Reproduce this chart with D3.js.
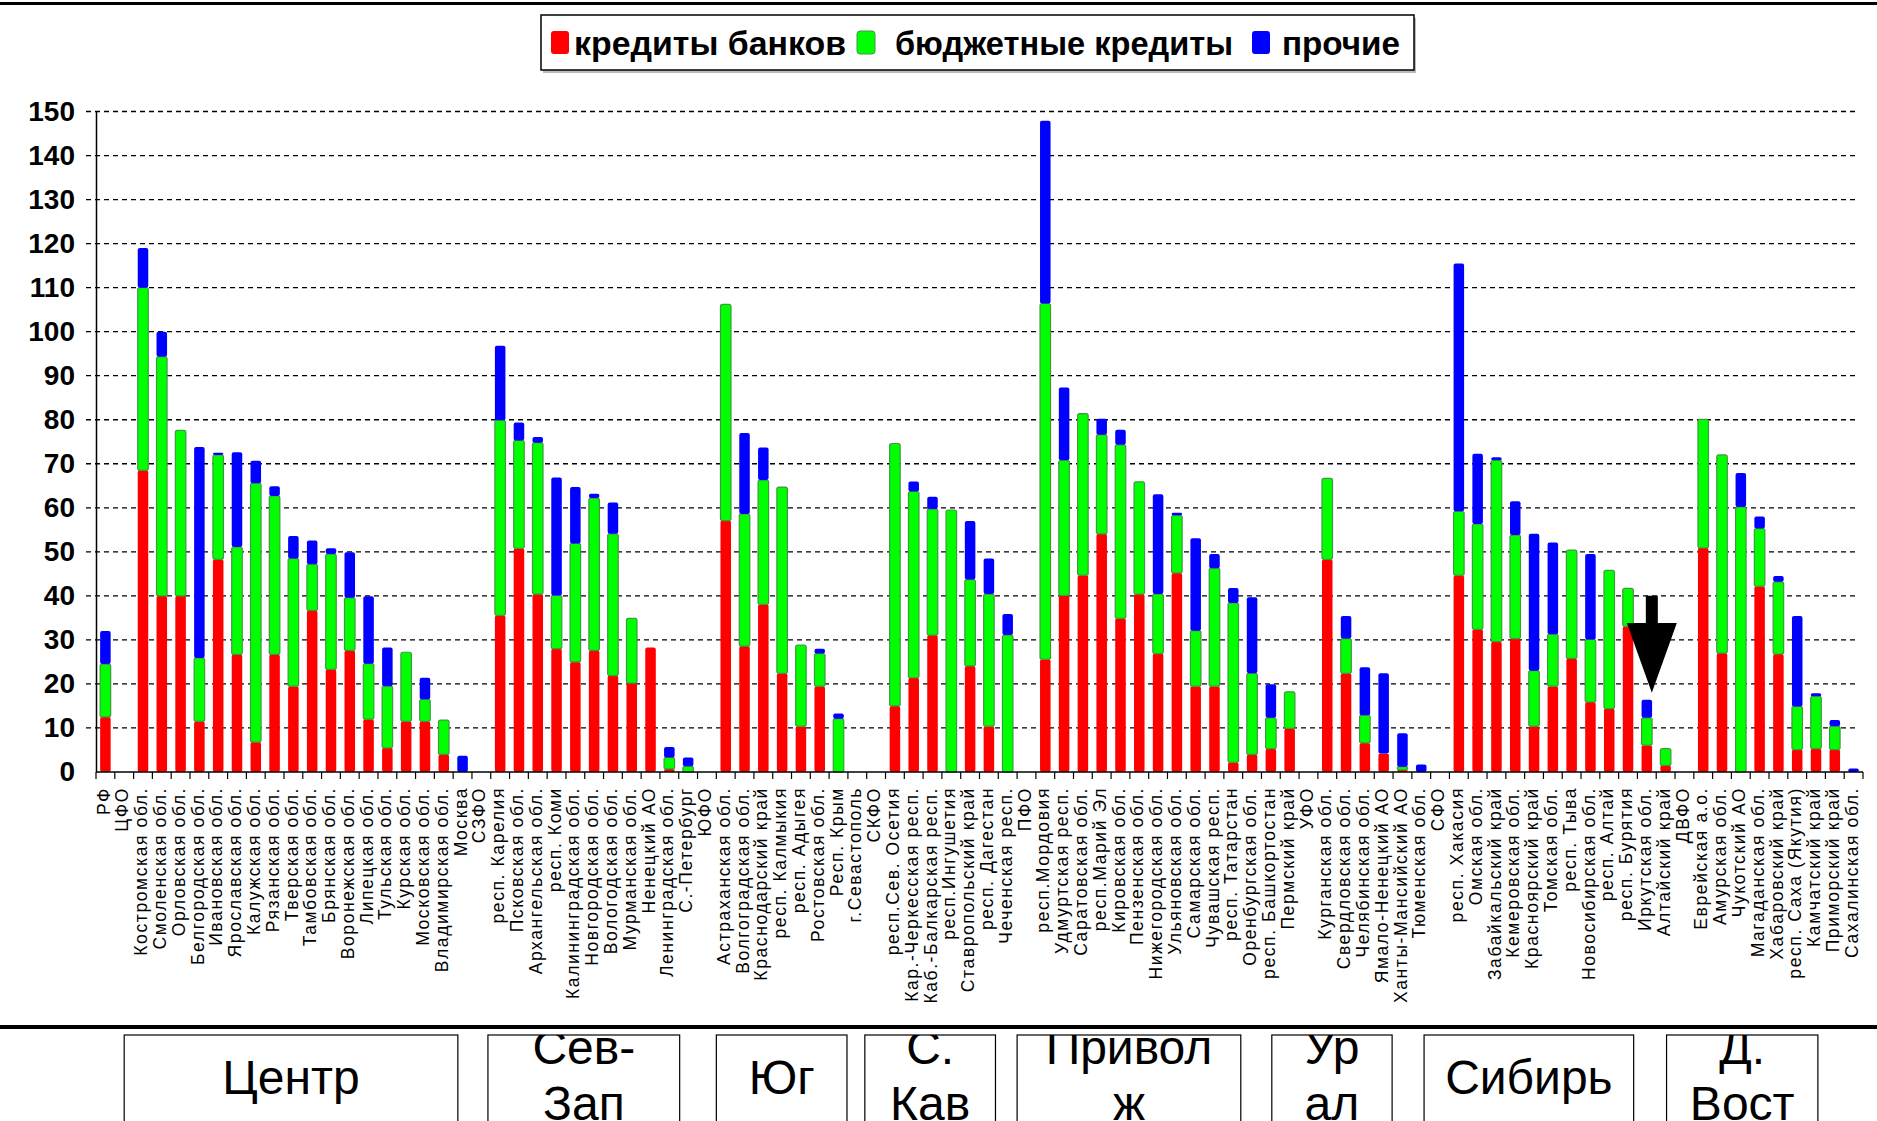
<!DOCTYPE html>
<html>
<head>
<meta charset="utf-8">
<script src="https://cdn.jsdelivr.net/npm/d3@7"></script>
<style>
    body { margin: 0; background: #fff; }
    svg { display: block; font-family: "Liberation Sans", Arial, sans-serif; }
</style>
</head>
<body>
<svg id="chart" width="1877" height="1121"></svg>
<script>
// data
var categories = ["РФ", "ЦФО", "Костромская обл.", "Смоленская обл.", "Орловская обл.", "Белгородская обл.",
    "Ивановская обл.", "Ярославская обл.", "Калужская обл.", "Рязанская обл.", "Тверская обл.", "Тамбовская обл.",
    "Брянская обл.", "Воронежская обл.", "Липецкая обл.", "Тульская обл.", "Курская обл.", "Московская обл.",
    "Владимирская обл.", "Москва", "СЗФО", "респ. Карелия", "Псковская обл.", "Архангельская обл.", "респ. Коми",
    "Калининградская обл.", "Новгородская обл.", "Вологодская обл.", "Мурманская обл.", "Ненецкий АО",
    "Ленинградская обл.", "С.-Петербург", "ЮФО", "Астраханская обл.", "Волгоградская обл.", "Краснодарский край",
    "респ. Калмыкия", "респ. Адыгея", "Ростовская обл.", "Респ. Крым", "г.Севастополь", "СКФО",
    "респ.Сев. Осетия", "Кар.-Черкесская респ.", "Каб.-Балкарская респ.", "респ.Ингушетия", "Ставропольский край",
    "респ. Дагестан", "Чеченская респ.", "ПФО", "респ.Мордовия", "Удмуртская респ.", "Саратовская обл.",
    "респ.Марий Эл", "Кировская обл.", "Пензенская обл.", "Нижегородская обл.", "Ульяновская обл.",
    "Самарская обл.", "Чувашская респ.", "респ. Татарстан", "Оренбургская обл.", "респ. Башкортостан",
    "Пермский край", "УФО", "Курганская обл.", "Свердловская обл.", "Челябинская обл.", "Ямало-Ненецкий АО",
    "Ханты-Мансийский АО", "Тюменская обл.", "СФО", "респ. Хакасия", "Омская обл.", "Забайкальский край",
    "Кемеровская обл.", "Красноярский край", "Томская обл.", "респ. Тыва", "Новосибирская обл.", "респ. Алтай",
    "респ. Бурятия", "Иркутская обл.", "Алтайский край", "ДВФО", "Еврейская а.о.", "Амурская обл.",
    "Чукотский АО", "Магаданская обл.", "Хабаровский край", "респ. Саха (Якутия)", "Камчатский край",
    "Приморский край", "Сахалинская обл."];

var bankCredits = [12.5, 0, 68.5, 40, 40, 11.5, 48.3, 26.7, 6.8, 26.7, 19.5, 36.7, 23.3, 27.6, 12, 5.5, 11.5, 11.5,
    4, 0, 0, 35.6, 50.8, 40.4, 28, 25, 27.6, 21.9, 20.2, 28.3, 0.7, 0, 0, 57.1, 28.6, 38.1, 22.4, 10.4, 19.5, 0,
    0, 0, 15, 21.4, 31.1, 0, 24.1, 10.4, 0, 0, 25.6, 40.1, 44.7, 54.1, 34.9, 40.4, 26.9, 45.2, 19.5, 19.5, 2.2,
    4, 5.3, 9.9, 0, 48.3, 22.4, 6.6, 4.2, 0.5, 0, 0, 44.7, 32.4, 29.6, 30.3, 10.4, 19.5, 25.8, 15.9, 14.4, 33.1,
    6.1, 1.5, 0, 50.9, 27, 0, 42.2, 26.8, 5.1, 5.3, 5.1, 0];

var budgetCredits = [12, 0, 41.5, 54.3, 37.6, 14.4, 23.7, 24.4, 58.8, 36, 29, 10.5, 26.2, 12, 12.6, 14, 15.7, 5,
    7.8, 0, 0, 44.3, 24.5, 34.4, 12.1, 26.9, 34.6, 32.2, 14.7, 0, 2.6, 1.3, 0, 49.1, 30, 28.2, 42.3, 18.4, 7.4,
    12.1, 0, 0, 59.6, 42.3, 28.6, 59.5, 19.6, 30, 31.1, 0, 80.8, 30.7, 36.7, 22.5, 39.4, 25.5, 13.5, 13.1, 12.6,
    26.8, 36.2, 18.4, 7, 8.3, 0, 18.4, 7.9, 6.3, 0, 0.7, 0, 0, 14.5, 23.9, 41.2, 23.5, 12.6, 11.8, 24.6, 14.2,
    31.4, 8.6, 6.2, 3.8, 0, 29.2, 45, 60.2, 13.1, 16.4, 9.8, 11.9, 5.3, 0];

var otherDebt = [7.5, 0, 9, 5.7, 0, 47.9, 0.5, 21.5, 5.1, 2.2, 5.1, 5.4, 1.3, 10.3, 15.3, 8.8, 0, 4.9, 0, 3.7, 0,
    16.9, 4.1, 1.3, 26.8, 12.8, 1, 7.1, 0, 0, 2.4, 2, 0, 0, 18.4, 7.4, 0, 0, 1.1, 1.2, 0, 0, 0, 2.3, 2.8, 0, 13.3,
    8.1, 4.8, 0, 41.5, 16.5, 0, 3.6, 3.4, 0, 22.7, 0.6, 21, 3.2, 3.4, 17.3, 7.6, 0, 0, 0, 5.1, 10.9, 18.2, 7.6,
    1.7, 0, 56.3, 16, 0.7, 7.7, 31.1, 20.8, 0, 19.4, 0, 0, 4.1, 0, 0, 0, 0, 7.7, 2.7, 1.3, 20.5, 0.7, 1.4, 0.8];

var seriesKeys = ["bank", "budget", "other"];
var seriesNames = ["кредиты банков", "бюджетные кредиты", "прочие"];
var seriesColors = ["#ff0000", "#00ff00", "#0000ff"];
var yTicks = [0, 10, 20, 30, 40, 50, 60, 70, 80, 90, 100, 110, 120, 130, 140, 150];

// federal districts under the axis: label lines and the span in category slots
var regionLabels = [["Центр"], ["Сев-", "Зап"], ["Юг"], ["С.", "Кав"], ["Привол", "ж"], ["Ур", "ал"], ["Сибирь"], ["Д.", "Вост"]];
var regionSpans = [[1.5, 19.25], [20.85, 31.05], [33, 39.95], [40.9, 47.85], [49, 60.9], [62.55, 68.95], [70.65, 81.8], [83.55, 91.6]];

// the arrow drawn over one bar
var arrowCategory = "Иркутская обл.";
var arrowFrom = 40, arrowTo = 18;

(function () {
    var svg = d3.select("#chart");
    var W = 1877, H = 1121;
    var plotLeft = 96, plotRight = 1863, plotTop = 111.5, plotBottom = 772;

    var rows = categories.map(function (c, i) {
        return {name: c, bank: bankCredits[i], budget: budgetCredits[i], other: otherDebt[i]};
    });

    var x = d3.scaleBand().domain(categories).range([plotLeft, plotRight])
        .paddingInner(0.44).paddingOuter(0.22);
    var slot = d3.scaleLinear().domain([0, categories.length]).range([plotLeft, plotRight]);
    var y = d3.scaleLinear().domain([0, 150]).range([plotBottom, plotTop]);

    // frame lines
    svg.append("rect").attr("x", 0).attr("y", 2).attr("width", W).attr("height", 3).attr("fill", "#000");
    svg.append("rect").attr("x", 0).attr("y", 1025).attr("width", W).attr("height", 4).attr("fill", "#000");

    // grid
    svg.append("g").selectAll("line").data(yTicks.filter(function (t) { return t > 0; }))
        .enter().append("line")
        .attr("x1", plotLeft - 10).attr("x2", plotRight - 4)
        .attr("y1", function (d) { return y(d); }).attr("y2", function (d) { return y(d); })
        .attr("stroke", "#000").attr("stroke-width", 1.3).attr("stroke-dasharray", "5,4");

    // bars
    var stack = d3.stack().keys(seriesKeys);
    var layers = stack(rows);
    var gBars = svg.append("g");
    layers.forEach(function (layer, li) {
        gBars.append("g").selectAll("rect")
            .data(layer.filter(function (d) { return d[1] - d[0] > 0; }))
            .enter().append("rect")
            .attr("x", function (d) { return x(d.data.name); })
            .attr("width", x.bandwidth())
            .attr("y", function (d) { return y(d[1]); })
            .attr("height", function (d) { return y(d[0]) - y(d[1]); })
            .attr("rx", 2)
            .attr("fill", seriesColors[li])
            .attr("stroke", li == 1 ? "#3f9a3f" : "none")
            .attr("stroke-width", 1.2);
    });

    // y axis
    var yAxis = d3.axisLeft(y).tickValues(yTicks).tickSize(0).tickPadding(21);
    var gy = svg.append("g").attr("transform", "translate(" + plotLeft + ",0)").call(yAxis);
    gy.select(".domain").attr("stroke", "#000").attr("stroke-width", 1.5);
    gy.selectAll("text").attr("font-size", 28).attr("font-weight", "bold").attr("fill", "#000")
        .attr("font-family", "'Liberation Sans', Arial, sans-serif");

    // x axis with ticks on slot boundaries
    svg.append("line").attr("x1", plotLeft).attr("x2", plotRight)
        .attr("y1", plotBottom).attr("y2", plotBottom).attr("stroke", "#000").attr("stroke-width", 1.5);
    svg.append("g").selectAll("line").data(d3.range(categories.length + 1))
        .enter().append("line")
        .attr("x1", function (d) { return slot(d); }).attr("x2", function (d) { return slot(d); })
        .attr("y1", plotBottom).attr("y2", plotBottom + 7)
        .attr("stroke", "#000").attr("stroke-width", 1.2);

    svg.append("g").selectAll("text").data(categories)
        .enter().append("text")
        .attr("transform", function (d) {
            return "translate(" + (x(d) + x.bandwidth() / 2 - 2) + "," + (plotBottom + 15) + ") rotate(-90)";
        })
        .attr("text-anchor", "end")
        .attr("dy", "0.35em")
        .attr("font-size", 17.5)
        .attr("letter-spacing", 1.6)
        .attr("fill", "#000")
        .text(function (d) { return d; });

    // arrow
    var ax = x(arrowCategory) + x.bandwidth() / 2 + 5;
    var headTop = y(arrowFrom) + (y(arrowTo) - y(arrowFrom)) * 0.28;
    svg.append("path")
        .attr("d", "M" + (ax - 6) + "," + y(arrowFrom) + "H" + (ax + 6) + "V" + headTop + "H" + (ax + 25) +
            "L" + ax + "," + y(arrowTo) + "L" + (ax - 25) + "," + headTop + "H" + (ax - 6) + "Z")
        .attr("fill", "#000");

    // legend
    var lg = svg.append("g");
    lg.append("rect").attr("x", 543).attr("y", 18).attr("width", 873).attr("height", 55).attr("fill", "#bbb");
    lg.append("rect").attr("x", 541).attr("y", 15).attr("width", 873).attr("height", 55)
        .attr("fill", "#fff").attr("stroke", "#000").attr("stroke-width", 1.5);
    var legendX = [551, 857, 1252];
    var legendTextX = [574, 895, 1282];
    var legendTextW = [272, 338, 118];
    seriesNames.forEach(function (name, i) {
        lg.append("rect").attr("x", legendX[i]).attr("y", 31).attr("width", 18).attr("height", 23).attr("rx", 3)
            .attr("fill", seriesColors[i]).attr("stroke", i == 1 ? "#3f9a3f" : "none");
        lg.append("text").attr("x", legendTextX[i]).attr("y", 55)
            .attr("font-size", 33).attr("font-weight", "bold").attr("fill", "#000")
            .attr("textLength", legendTextW[i]).attr("lengthAdjust", "spacingAndGlyphs")
            .text(name);
    });

    // district boxes
    var defs = svg.append("defs");
    var gReg = svg.append("g");
    regionLabels.forEach(function (lines, i) {
        var x0 = slot(regionSpans[i][0]), x1 = slot(regionSpans[i][1]);
        defs.append("clipPath").attr("id", "reg" + i).append("rect")
            .attr("x", x0).attr("y", 1035).attr("width", x1 - x0).attr("height", 100);
        var g = gReg.append("g");
        g.append("rect").attr("x", x0).attr("y", 1035).attr("width", x1 - x0).attr("height", 100)
            .attr("fill", "#fff").attr("stroke", "#000").attr("stroke-width", 1.2);
        var tg = g.append("g").attr("clip-path", "url(#reg" + i + ")");
        lines.forEach(function (ln, k) {
            tg.append("text").attr("x", (x0 + x1) / 2)
                .attr("y", lines.length == 1 ? 1094 : 1064 + k * 56)
                .attr("text-anchor", "middle").attr("font-size", 48).attr("fill", "#000")
                .text(ln);
        });
    });
})();
</script>
</body>
</html>
